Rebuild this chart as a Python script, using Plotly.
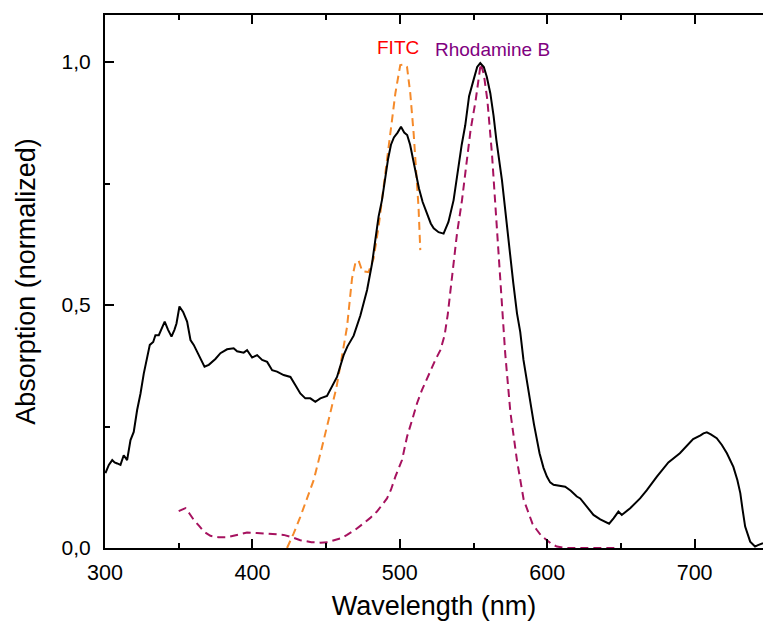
import plotly.graph_objects as go

# Black solid spectrum (sample)
sample_x = [300.3, 302.6, 304.9, 306.5, 308.3, 310.5, 312.7, 315, 317.3, 319.5, 321.8, 324.1, 326.3, 328.6,
            330.4, 332.7, 334.2, 336.5, 338.3, 340.5, 342.8, 345.1, 347.1, 348.5, 350.5, 353, 355.7, 358,
            360.2, 363.6, 367.5, 370.4, 374.9, 378.3, 382.8, 387.3, 389.6, 394.1, 396.4, 399.8, 403.2, 406.6,
            410, 413.4, 416.7, 421.2, 425.8, 429.2, 432.5, 435.9, 439.3, 442.7, 446.1, 450.6, 454, 457.4,
            461.9, 464.5, 468.7, 473.2, 477.8, 481.2, 483.4, 485.6, 487.9, 490, 492, 494, 496, 498.5, 500.8,
            503, 505, 507, 510, 513, 515.5, 518.5, 521, 523, 526.3, 529.7, 533, 536.5, 539.5, 542, 544.4, 547,
            550, 552.5, 554.6, 557, 559, 561.4, 563.6, 565.5, 569.3, 572, 574.9, 577, 579.5, 581.7, 583.9,
            586.2, 589.6, 591, 594.8, 597.5, 599.8, 602, 604.3, 608, 612.2, 616, 620.1, 622.4, 626.9, 631.4,
            636, 640.5, 642, 645, 648.3, 650.6, 656.3, 663, 667.6, 674.4, 682.2, 690, 699, 704, 706, 708.3,
            711, 715, 718.5, 721.9, 726.3, 729, 731, 732.5, 734.3, 737.7, 741, 743, 746.4]
sample_y = [0.154, 0.171, 0.181, 0.176, 0.174, 0.171, 0.191, 0.181, 0.222, 0.239, 0.284, 0.318, 0.359, 0.394,
            0.418, 0.424, 0.438, 0.438, 0.452, 0.466, 0.449, 0.435, 0.449, 0.462, 0.497, 0.486, 0.466, 0.428,
            0.418, 0.397, 0.373, 0.377, 0.389, 0.401, 0.409, 0.411, 0.405, 0.402, 0.407, 0.392, 0.397, 0.387,
            0.383, 0.366, 0.363, 0.356, 0.352, 0.335, 0.318, 0.308, 0.308, 0.301, 0.308, 0.313, 0.332, 0.352,
            0.397, 0.415, 0.437, 0.478, 0.531, 0.586, 0.634, 0.682, 0.716, 0.76, 0.80, 0.83, 0.845, 0.855, 0.867,
            0.855, 0.85, 0.83, 0.785, 0.74, 0.712, 0.69, 0.668, 0.658, 0.65, 0.647, 0.671, 0.716, 0.78, 0.83, 0.87, 0.93,
            0.963, 0.99, 0.998, 0.99, 0.97, 0.936, 0.89, 0.84, 0.757, 0.68, 0.606, 0.545, 0.483, 0.445, 0.387,
            0.346, 0.277, 0.255, 0.195, 0.165, 0.147, 0.135, 0.13, 0.128, 0.126, 0.118, 0.106, 0.102, 0.085, 0.068,
            0.059, 0.052, 0.05, 0.061, 0.075, 0.068, 0.082, 0.102, 0.119, 0.147, 0.176, 0.195, 0.224, 0.232, 0.236, 0.238,
            0.234, 0.226, 0.212, 0.195, 0.167, 0.14, 0.113, 0.08, 0.044, 0.013, 0.003, 0.006, 0.01]

# FITC (orange dashed)
fitc_x = [423.5, 428, 432.5, 437, 441.6, 447, 452.9, 457, 460.5, 464.2, 467.6, 469.8, 472, 474.5, 478.8,
          482.2, 485.6, 487.9, 491, 493.6, 497, 500.3, 503, 504.9, 507.1, 509.4, 511.5, 512.7, 513.9]
fitc_y = [0.0, 0.03, 0.064, 0.1, 0.14, 0.205, 0.277, 0.33, 0.39, 0.455, 0.555, 0.586, 0.592, 0.57, 0.568,
          0.596, 0.661, 0.716, 0.79, 0.853, 0.936, 0.994, 0.995, 0.99, 0.936, 0.853, 0.76, 0.702, 0.613]

# Rhodamine B (magenta dashed)
rhb_x = [350, 354.6, 357.5, 360.2, 364, 367, 371.5, 377, 382.8, 390, 396.4, 403, 410, 416, 421.2, 427, 432.5,
         440, 446.1, 451, 455.1, 460, 464.2, 470, 475.5, 480, 484.5, 488, 491.3, 494, 497, 501.5, 504.9, 508.3,
         511.7, 515, 519.5, 524.1, 527.5, 530.4, 532.5, 534.5, 536.5, 538.8, 542.2, 545, 548, 551.5, 554.9, 557,
         559.4, 562.5, 564.7, 567, 569.3, 571.5, 575, 579.5, 584, 587, 590, 593, 596, 599.8, 603, 606.6, 612,
         620, 630, 640, 648.5]
rhb_y = [0.076, 0.082, 0.07, 0.058, 0.045, 0.034, 0.025, 0.022, 0.022, 0.027, 0.032, 0.031, 0.030, 0.029, 0.027,
         0.022, 0.016, 0.012, 0.011, 0.012, 0.015, 0.02, 0.027, 0.038, 0.051, 0.062, 0.075, 0.088, 0.102, 0.12,
         0.147, 0.181, 0.229, 0.263, 0.298, 0.325, 0.356, 0.387, 0.407, 0.438, 0.48, 0.53, 0.579, 0.647, 0.716,
         0.79, 0.86, 0.922, 0.997, 0.975, 0.922, 0.812, 0.709, 0.606, 0.503, 0.401, 0.28, 0.18, 0.10, 0.075, 0.05,
         0.037, 0.025, 0.016, 0.008, 0.003, 0.0, 0.0, 0.0, 0.0, 0.0]

labels = ["FITC", "Rhodamine B"]
label_x = [499, 562.7]
label_y = [1.031, 1.027]
label_colors = ["#FF0000", "#800080"]

FONT = "Liberation Sans, Arial, sans-serif"

fig = go.Figure()
fig.add_trace(go.Scatter(x=fitc_x, y=fitc_y, mode="lines",
                         line=dict(color="#F58A2A", width=2, dash="8px,5px"), showlegend=False))
fig.add_trace(go.Scatter(x=rhb_x, y=rhb_y, mode="lines",
                         line=dict(color="#A6125F", width=2, dash="8px,5px"), showlegend=False))
fig.add_trace(go.Scatter(x=sample_x, y=sample_y, mode="lines",
                         line=dict(color="black", width=2), showlegend=False))

for t, x, y, c in zip(labels, label_x, label_y, label_colors):
    fig.add_annotation(x=x, y=y, text=t, showarrow=False, xanchor="center", yanchor="middle",
                       font=dict(family=FONT, size=19, color=c))

fig.update_layout(
    width=763, height=626,
    margin=dict(l=105, r=0, t=15, b=78),
    paper_bgcolor="white", plot_bgcolor="white",
    separators=",.",
    font=dict(family=FONT, color="black"),
)
fig.update_xaxes(
    range=[300, 746.4], showline=True, linewidth=2, linecolor="black", mirror="ticks",
    ticks="inside", ticklen=9, tickwidth=2, tickcolor="black", tick0=0, dtick=100,
    minor=dict(ticks="inside", ticklen=5, tickwidth=2, tickcolor="black", dtick=50),
    showgrid=False, zeroline=False,
    tickfont=dict(family=FONT, size=21.5, color="black"), ticklabelstandoff=4,
    title=dict(text="Wavelength (nm)", font=dict(family=FONT, size=27, color="black"), standoff=12),
)
fig.update_yaxes(
    range=[0, 1.097], showline=True, linewidth=2, linecolor="black", mirror=False,
    ticks="inside", ticklen=9, tickwidth=2, tickcolor="black",
    tickvals=[0, 0.5, 1.0], tickformat=".1f",
    minor=dict(ticks="inside", ticklen=5, tickwidth=2, tickcolor="black", tickvals=[0.25, 0.75]),
    showgrid=False, zeroline=False,
    tickfont=dict(family=FONT, size=21, color="black"), ticklabelstandoff=8,
    title=dict(text="Absorption (normalized)", font=dict(family=FONT, size=27, color="black"), standoff=18),
)

fig.write_html("out.html")
